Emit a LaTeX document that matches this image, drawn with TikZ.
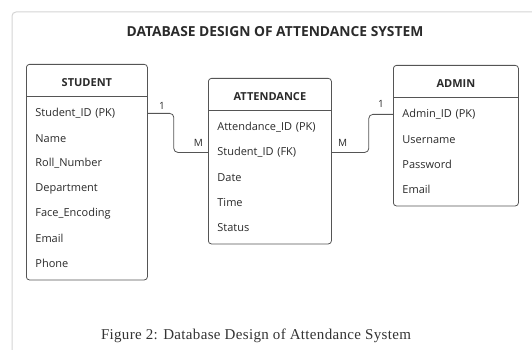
\documentclass[tikz,border=0pt]{standalone}
\usepackage{fontspec}
\setmainfont{Liberation Serif}
\newfontfamily\erfont{Open Sans}
\newfontfamily\capfont[LetterSpace=2.2]{Liberation Serif}
\usepackage{xcolor}
\usetikzlibrary{matrix,positioning}

\definecolor{boxline}{HTML}{555555}
\definecolor{boxtext}{HTML}{2A2A2A}
\definecolor{framegray}{HTML}{D4D4D4}

\tikzset{
  entity/.style={matrix of nodes, draw=boxline, line width=0.8pt, rounded corners=3pt,
    inner xsep=0pt, inner ysep=4pt, row sep=0pt,
    nodes={text width=#1, inner xsep=9pt, inner ysep=0pt, minimum height=25pt,
      align=left, font=\erfont\fontsize{11}{12}\selectfont, text=boxtext, rounded corners=0pt}},
  hdr/.style={align=center, minimum height=28pt, font=\erfont\bfseries\fontsize{11}{12}\selectfont},
  link/.style={draw=boxline, line width=0.8pt, rounded corners=4pt},
  card/.style={inner sep=1pt, font=\erfont\fontsize{10}{12}\selectfont, text=boxtext},
}

\begin{document}
\begin{tikzpicture}[x=1pt,y=1pt]
\useasboundingbox (0,0) rectangle (532,-350);
% page frame
\draw[framegray, line width=1pt, rounded corners=4pt] (12,-352) -- (12,-12) -- (534,-12);

\node[font=\erfont\bfseries\fontsize{13.8}{16}\selectfont, text=boxtext] (title) at (275,-32)
  {DATABASE DESIGN OF ATTENDANCE SYSTEM};

% entities
\matrix(stu)[entity=103pt, anchor=north west] at (26,-64) {
  |[hdr]| STUDENT \\[4.5pt]
  Student\_ID (PK) \\
  Name \\
  Roll\_Number \\
  Department \\
  Face\_Encoding \\
  Email \\
  Phone \\
};
\matrix(att)[entity=105pt, anchor=north west] at (208,-78) {
  |[hdr]| ATTENDANCE \\[4.5pt]
  Attendance\_ID (PK) \\
  Student\_ID (FK) \\
  Date \\
  Time \\
  Status \\
};
\matrix(adm)[entity=107pt, anchor=north west] at (393,-65) {
  |[hdr]| ADMIN \\[4.5pt]
  Admin\_ID (PK) \\
  Username \\
  Password \\
  Email \\
};
\foreach \e in {stu,att,adm}
  \draw[boxline, line width=0.8pt] (\e.west |- \e-1-1.south) -- (\e.east |- \e-1-1.south);

% relations
\draw[link] (stu-2-1.east) -- ++(26,0) |- (att-3-1.west);
\draw[link] (att-3-1.east) -- ++(37,0) |- (adm-2-1.west);
\node[card, above right=3pt and 10pt of stu-2-1.east] (c1) {1};
\node[card, above left=5pt and 4pt of att-3-1.west] (c2) {M};
\node[card, above right=5pt and 5pt of att-3-1.east] (c3) {M};
\node[card, above left=6pt and 8pt of adm-2-1.west] (c4) {1};

\node[font=\capfont\fontsize{15}{17}\selectfont, text=black!80] (caption) at (256,-336)
  {Figure 2: Database Design of Attendance System};
\end{tikzpicture}
\end{document}
